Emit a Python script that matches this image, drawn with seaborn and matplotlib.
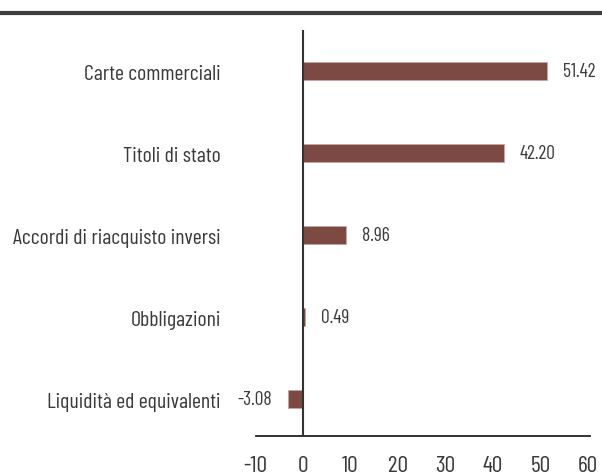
import matplotlib
matplotlib.use("Agg")
import matplotlib.pyplot as plt
import seaborn as sns
import pandas as pd
from matplotlib.lines import Line2D

categories = ["Carte commerciali", "Titoli di stato", "Accordi di riacquisto inversi",
              "Obbligazioni", "Liquidità ed equivalenti"]
values = [51.42, 42.20, 8.96, 0.49, -3.08]
value_labels = ["51.42", "42.20", "8.96", "0.49", "-3.08"]
xticks = [-10, 0, 10, 20, 30, 40, 50, 60]

sns.set_style("white")
plt.rcParams['font.family'] = ['Barlow Condensed', 'DejaVu Sans']
TXT = "#3a3a3a"
BAR = "#7c4a42"

df = pd.DataFrame({"cat": categories, "val": values})

fig = plt.figure(figsize=(6.02, 4.77), dpi=100)
ax = fig.add_axes([255.5 / 602, 40 / 477, 334.5 / 602, 406 / 477])

sns.barplot(data=df, x="val", y="cat", orient="h", color=BAR, width=0.21,
            saturation=1, ax=ax, edgecolor="#c9a5a0", linewidth=0.6)

ax.set_xlim(-10, 60.4)
ax.set_ylim(4.45, -0.5)
ax.set_xticks(xticks)
ax.set_xticklabels([str(t) for t in xticks])
ax.set_xlabel("")
ax.set_ylabel("")
for s in ["top", "right", "left"]:
    ax.spines[s].set_visible(False)
ax.spines["bottom"].set_color("#222222")
ax.spines["bottom"].set_linewidth(1.3)
ax.axvline(0, color="#333333", lw=1.5, zorder=3)
ax.tick_params(axis="x", length=0, pad=13.5, labelsize=17, labelcolor=TXT)
ax.tick_params(axis="y", length=0, pad=25, labelsize=15.7, labelcolor=TXT)
ax.grid(False)

for i, (v, lab) in enumerate(zip(values, value_labels)):
    if v >= 0:
        ax.annotate(lab, (v, i), xytext=(11.5, 0), textcoords="offset points",
                    ha="left", va="center", fontsize=14, color=TXT)
    else:
        ax.annotate(lab, (v, i), xytext=(-11.5, 0), textcoords="offset points",
                    ha="right", va="center", fontsize=14, color=TXT)

fig.add_artist(Line2D([0, 1], [1 - 14 / 477, 1 - 14 / 477], transform=fig.transFigure,
                      color="#3d3d3d", lw=3))

fig.savefig("out.png", dpi=100)
